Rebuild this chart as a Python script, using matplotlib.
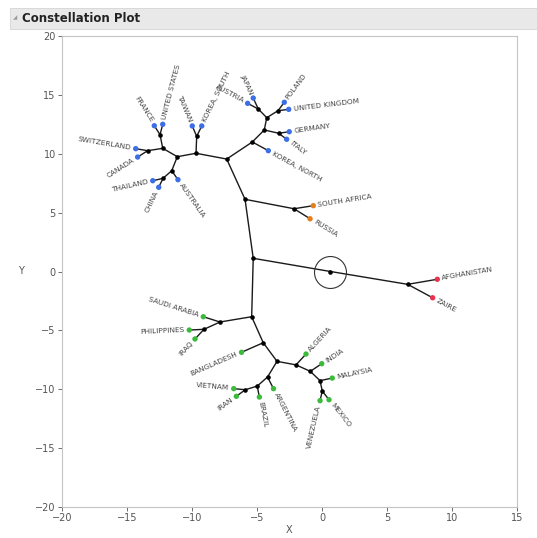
import numpy as np
import matplotlib
matplotlib.use("Agg")
import matplotlib.pyplot as plt
from matplotlib.transforms import offset_copy

# Joins of the cluster tree (X, Y and the join they hang from)
join_ids = ['R', 'Z', 'A1', 'B', 'C', 'SR', 'D', 'E', 'TK', 'E2', 'E3', 'FU', 'SC',
            'E4', 'TC', 'F', 'G', 'H', 'J', 'K', 'I', 'L', 'N', 'M', 'O', 'P', 'S',
            'T', 'Q', 'U', 'V', 'W']
join_x = [0.65, 6.59, -5.29, -5.92, -5.41, -2.15, -7.33, -9.69, -9.64, -11.13, -12.25,
          -12.46, -13.41, -11.56, -12.23, -5.36, -4.44, -4.25, -4.90, -3.38, -3.33,
          -7.85, -9.08, -4.52, -3.46, -4.19, -4.98, -5.90, -2.00, -0.90, -0.15, 0.02]
join_y = [0.00, -1.09, 1.12, 6.13, -3.84, 5.33, 9.55, 10.04, 11.48, 9.75, 10.46,
          11.62, 10.26, 8.56, 7.91, 11.00, 12.02, 13.06, 13.80, 13.66, 11.74,
          -4.29, -4.91, -6.05, -7.63, -8.96, -9.73, -10.04, -7.93, -8.48, -9.27, -10.15]
join_parent = [None, 'R', 'R', 'A1', 'A1', 'B', 'B', 'D', 'E', 'E', 'E2', 'E3', 'E3',
               'E2', 'E4', 'D', 'F', 'G', 'H', 'H', 'G', 'C', 'L', 'C', 'M', 'O', 'P',
               'S', 'O', 'Q', 'U', 'V']

# Countries (leaves)
countries = ['AFGHANISTAN', 'ZAIRE', 'SOUTH AFRICA', 'RUSSIA',
             'TAIWAN', 'KOREA, SOUTH', 'FRANCE', 'UNITED STATES', 'SWITZERLAND', 'CANADA',
             'THAILAND', 'CHINA', 'AUSTRALIA', 'KOREA, NORTH', 'JAPAN', 'AUSTRIA',
             'POLAND', 'UNITED KINGDOM', 'GERMANY', 'ITALY',
             'SAUDI ARABIA', 'PHILIPPINES', 'IRAQ', 'BANGLADESH', 'ARGENTINA', 'BRAZIL',
             'VIETNAM', 'IRAN', 'ALGERIA', 'INDIA', 'MALAYSIA', 'VENEZUELA', 'MEXICO']
country_x = [8.87, 8.51, -0.67, -0.92,
             -9.98, -9.25, -12.90, -12.25, -14.33, -14.18,
             -13.02, -12.56, -11.08, -4.13, -5.29, -5.72,
             -2.90, -2.56, -2.52, -2.72,
             -9.13, -10.21, -9.77, -6.19, -3.73, -4.82,
             -6.79, -6.59, -1.23, -0.02, 0.79, -0.15, 0.54]
country_y = [-0.66, -2.23, 5.59, 4.48,
             12.36, 12.36, 12.38, 12.50, 10.43, 9.72,
             7.71, 7.15, 7.80, 10.26, 14.73, 14.28,
             14.37, 13.77, 11.87, 11.23,
             -3.84, -4.97, -5.73, -6.86, -9.95, -10.66,
             -9.95, -10.60, -7.01, -7.83, -9.05, -10.97, -10.89]
country_parent = ['Z', 'Z', 'SR', 'SR',
                  'TK', 'TK', 'FU', 'FU', 'SC', 'SC',
                  'TC', 'TC', 'E4', 'F', 'J', 'J',
                  'K', 'K', 'I', 'I',
                  'L', 'N', 'N', 'M', 'P', 'S',
                  'T', 'T', 'Q', 'U', 'V', 'W', 'W']
country_group = [1, 1, 2, 2] + [3] * 16 + [4] * 13
group_colors = {1: '#e8334f', 2: '#e47d1e', 3: '#3c6ee6', 4: '#3cba3c'}

fig = plt.figure(figsize=(5.37, 5.38), dpi=100)
fig.patch.set_facecolor('white')

# outline header bar
fig.patches.append(plt.Rectangle((10 / 537, 1 - 29 / 538), 527 / 537, 21 / 538,
                                 transform=fig.transFigure, facecolor='#e9e9e9',
                                 edgecolor='#d4d4d4', lw=0.6))
fig.text(13 / 537, 1 - 18 / 538, '\u25e2', fontsize=4, color='#999999', va='center')
fig.text(22 / 537, 1 - 18 / 538, 'Constellation Plot', fontsize=8.5, fontweight='bold',
         color='#222222', va='center')

ax = fig.add_axes([62 / 537, 1 - 507 / 538, 455 / 537, 471 / 538])
ax.set_xlim(-20, 15)
ax.set_ylim(-20, 20)
ax.set_xticks(np.arange(-20, 16, 5))
ax.set_yticks(np.arange(-20, 21, 5))
ax.tick_params(labelsize=7, colors='#555555', length=3, width=0.6, pad=1.5)
for s in ax.spines.values():
    s.set_color('#c4c4c4')
    s.set_linewidth(0.8)
ax.set_xlabel('X', fontsize=7, color='#555555', labelpad=1)
ax.set_ylabel('Y', fontsize=7, color='#555555', rotation=0, labelpad=10, va='center')

pos = {j: (x, y) for j, x, y in zip(join_ids, join_x, join_y)}

# branches
for j, p in zip(join_ids, join_parent):
    if p is None:
        continue
    ax.plot([pos[p][0], pos[j][0]], [pos[p][1], pos[j][1]], color='#1a1a1a', lw=1.0,
            zorder=2)
for x, y, p in zip(country_x, country_y, country_parent):
    ax.plot([pos[p][0], x], [pos[p][1], y], color='#1a1a1a', lw=1.0, zorder=2)

ax.plot(join_x, join_y, 'o', color='black', ms=3.3, mew=0, zorder=3)
ax.scatter(country_x, country_y, s=15, c=[group_colors[g] for g in country_group],
           linewidths=0, zorder=4)

# ring round the root
ax.plot(join_x[0], join_y[0], 'o', ms=23, mfc='none', mec='#333333', mew=0.8, zorder=3)

# country labels run along the last branch
for name, x, y, p in zip(countries, country_x, country_y, country_parent):
    x0, y0 = ax.transData.transform(pos[p])
    x1, y1 = ax.transData.transform((x, y))
    ang = np.degrees(np.arctan2(y1 - y0, x1 - x0))
    gap = 3.4
    tr = offset_copy(ax.transData, fig=fig, x=gap * np.cos(np.radians(ang)),
                     y=gap * np.sin(np.radians(ang)), units='points')
    if -90 < ang <= 90:
        rot, ha = ang, 'left'
    else:
        rot, ha = ang - 180, 'right'
    ax.text(x, y, name, transform=tr, rotation=rot, rotation_mode='anchor', ha=ha,
            va='center', fontsize=5.3, color='#444444')

plt.savefig('out.png', dpi=100)
